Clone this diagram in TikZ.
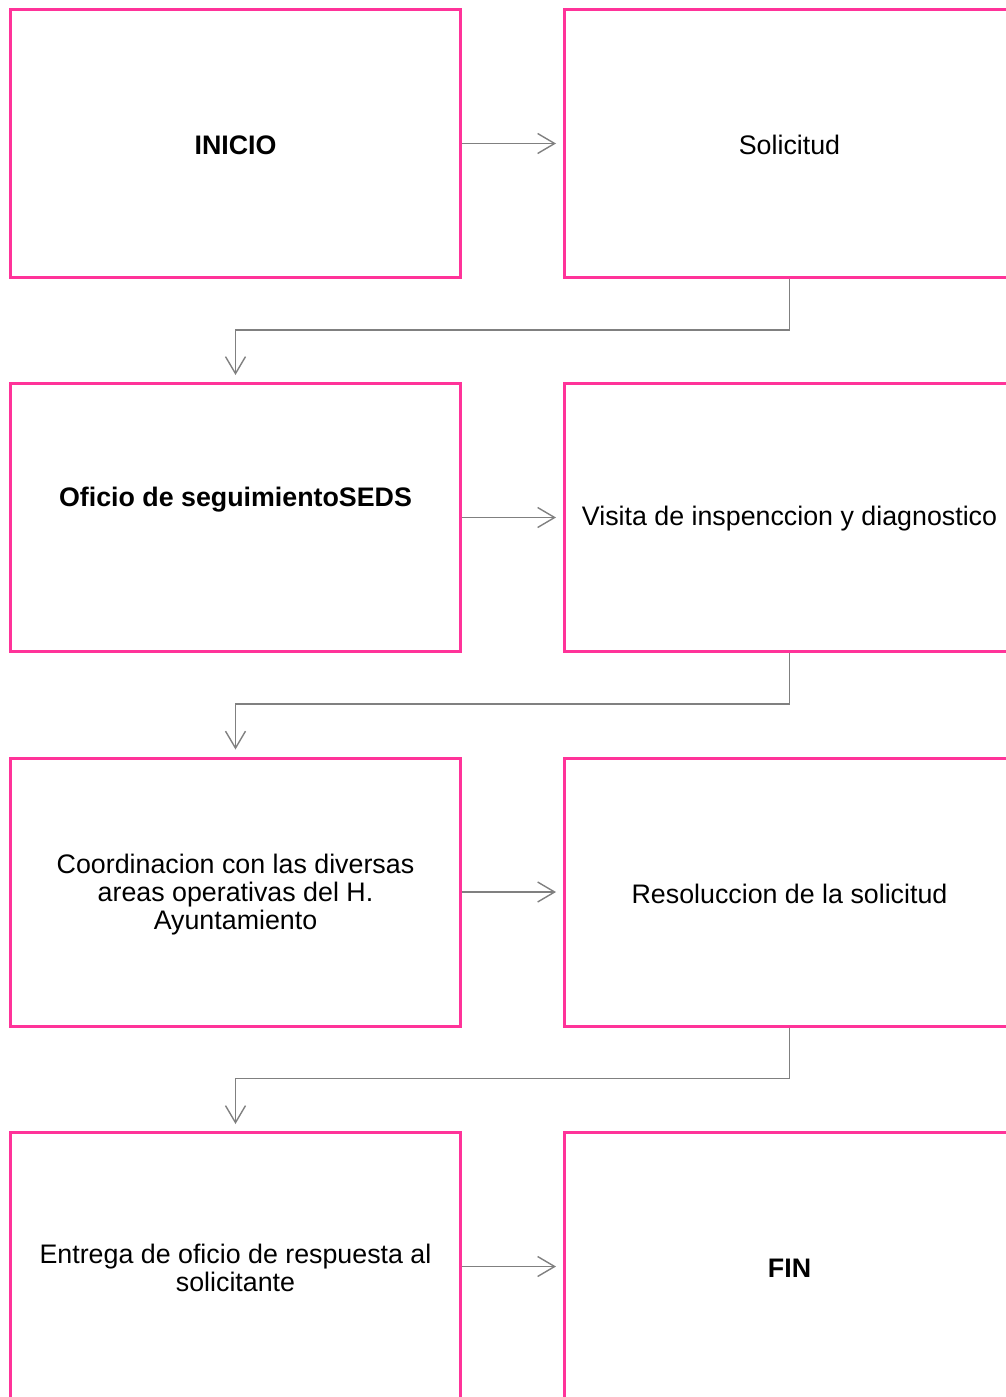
\documentclass[tikz,border=0pt]{standalone}
\usepackage{fontspec}
\setmainfont{Liberation Sans}
\usetikzlibrary{arrows.meta}
\definecolor{boxpink}{HTML}{FF3399}
\definecolor{conngray}{HTML}{808080}
\begin{document}
\begin{tikzpicture}[x=1pt,y=-1pt,
  stepbox/.style={draw=boxpink,line width=3pt,minimum width=450pt,minimum height=268pt,inner sep=0pt},
  txt/.style={inner sep=0pt,align=center,font=\fontsize{26.8}{28}\selectfont},
  conn/.style={draw=conngray,line width=1.4pt,-{Straight Barb[length=17pt,width=20pt,line width=1.4pt]},shorten >=7pt}]
\useasboundingbox (0,0) rectangle (1006,1397);
\clip (0,0) rectangle (1006,1397);
\node[stepbox] (ini) at (235.5,143.5) {};
\node[stepbox] (sol) at (789.5,143.5) {};
\node[stepbox] (ofi) at (235.5,517.5) {};
\node[stepbox] (vis) at (789.5,517.5) {};
\node[stepbox] (coo) at (235.5,892) {};
\node[stepbox] (res) at (789.5,892) {};
\node[stepbox] (ent) at (235.5,1266.5) {};
\node[stepbox] (fin) at (789.5,1266.5) {};
\node[txt,font=\fontsize{26.8}{28}\selectfont\bfseries] (init) at (235.5,145) {INICIO};
\node[txt] (solt) at (789.5,145) {Solicitud};
\node[txt,font=\fontsize{26.8}{28}\selectfont\bfseries] (ofit) at (235.5,499.5) {Oficio de seguimientoSEDS};
\node[txt] (vist) at (789.5,519) {Visita de inspenccion y diagnostico};
\node[txt] (coot) at (235.5,894.5) {Coordinacion con las diversas\\areas operativas del H.\\Ayuntamiento};
\node[txt] (rest) at (789.5,894) {Resoluccion de la solicitud};
\node[txt] (entt) at (235.5,1268) {Entrega de oficio de respuesta al\\solicitante};
\node[txt,font=\fontsize{26.8}{28}\selectfont\bfseries] (fint) at (789.5,1268) {FIN};
\draw[conn] (ini.east) -- (sol.west);
\draw[conn] (ofi.east) -- (vis.west);
\draw[conn] (coo.east) -- (res.west);
\draw[conn] (ent.east) -- (fin.west);
\draw[conn] (sol.south) -- ++(0,51) -| (ofi.north);
\draw[conn] (vis.south) -- ++(0,51) -| (coo.north);
\draw[conn] (res.south) -- ++(0,51) -| (ent.north);
\end{tikzpicture}
\end{document}
